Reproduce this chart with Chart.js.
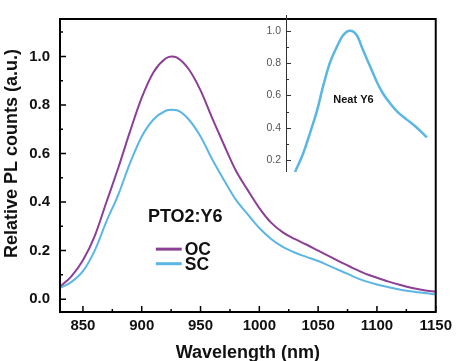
<!DOCTYPE html>
<html lang="en">
<head>
    <meta charset="UTF-8">
    <title>PTO2:Y6 PL</title>
    <script src="https://cdn.jsdelivr.net/npm/chart.js"></script>
    <style>
        html, body { margin: 0; padding: 0; background: #fff; }
        #wrap { position: relative; width: 457px; height: 361px; }
        #wrap canvas { position: absolute; left: 0; top: 0; }
    </style>
</head>
<body>
<div id="wrap">
    <canvas id="main-chart" width="457" height="361"></canvas>
    <canvas id="inset-chart" width="457" height="361"></canvas>
</div>

<script>
    // main panel: PTO2:Y6 blend
    const wavelength = [830, 840, 850, 860, 870, 880, 890, 900, 910, 920, 925, 930, 940, 950, 960, 970, 980, 990,
        1000, 1010, 1020, 1030, 1040, 1050, 1060, 1070, 1080, 1090, 1100, 1110, 1120, 1130, 1140, 1150];
    const ocCounts = [0.05, 0.093, 0.16, 0.26, 0.40, 0.54, 0.69, 0.83, 0.935, 0.99, 1.0, 0.995, 0.947, 0.86, 0.745, 0.635, 0.53, 0.45,
        0.375, 0.315, 0.275, 0.248, 0.225, 0.20, 0.175, 0.15, 0.127, 0.105, 0.088, 0.072, 0.058, 0.046, 0.037, 0.03];
    const scCounts = [0.045, 0.07, 0.115, 0.20, 0.32, 0.43, 0.56, 0.67, 0.74, 0.775, 0.78, 0.778, 0.74, 0.67, 0.575, 0.49, 0.41, 0.35,
        0.293, 0.248, 0.215, 0.192, 0.174, 0.157, 0.136, 0.115, 0.093, 0.074, 0.06, 0.049, 0.039, 0.031, 0.025, 0.02];
    const xTicks = [850, 900, 950, 1000, 1050, 1100, 1150];
    const xMinor = [875, 925, 975, 1025, 1075, 1125];
    const yTicks = [0.0, 0.2, 0.4, 0.6, 0.8, 1.0];
    const yMinor = [0.1, 0.3, 0.5, 0.7, 0.9, 1.1];

    // inset: neat Y6
    const insetWavelength = [818, 834, 848, 862, 874, 887, 901, 913, 927, 941, 953, 967, 981, 993, 1007, 1021, 1040, 1060, 1080];
    const neatCounts = [0.126, 0.24, 0.37, 0.51, 0.66, 0.80, 0.90, 0.97, 1.0, 0.97, 0.88, 0.78, 0.68, 0.61, 0.55, 0.50, 0.45, 0.40, 0.34];
    const insetTicks = [0.2, 0.4, 0.6, 0.8, 1.0];
    const insetMinor = [0.3, 0.5, 0.7, 0.9];

    const PURPLE = '#8b3f95';
    const BLUE = '#5cb6e4';
    const FONT = 'Arial, "Liberation Sans", sans-serif';

    const pts = (xs, ys) => xs.map((x, i) => ({ x: x, y: ys[i] }));

    // frame, inward ticks, y title and legend text for the main panel
    const mainDecor = {
        id: 'mainDecor',
        afterDraw(chart) {
            const ctx = chart.ctx;
            const a = chart.chartArea;
            const xs = chart.scales.x, ys = chart.scales.y;
            ctx.save();
            ctx.strokeStyle = '#000';
            ctx.lineWidth = 2;
            ctx.strokeRect(a.left, a.top, a.right - a.left, a.bottom - a.top);
            ctx.lineWidth = 1.5;
            ctx.beginPath();
            xTicks.forEach(v => { const p = xs.getPixelForValue(v); ctx.moveTo(p, a.bottom); ctx.lineTo(p, a.bottom - 6); });
            xMinor.forEach(v => { const p = xs.getPixelForValue(v); ctx.moveTo(p, a.bottom); ctx.lineTo(p, a.bottom - 3); });
            yTicks.forEach(v => { const p = ys.getPixelForValue(v); ctx.moveTo(a.left, p); ctx.lineTo(a.left + 6, p); });
            yMinor.forEach(v => { const p = ys.getPixelForValue(v); ctx.moveTo(a.left, p); ctx.lineTo(a.left + 3, p); });
            ctx.stroke();

            // y title (sits a little above the axis centre in the original)
            ctx.fillStyle = '#111';
            ctx.font = 'bold 18px ' + FONT;
            ctx.textAlign = 'center';
            ctx.textBaseline = 'middle';
            ctx.save();
            ctx.translate(12, ys.getPixelForValue(0.6));
            ctx.rotate(-Math.PI / 2);
            ctx.fillText('Relative PL counts (a.u.)', 0, 0);
            ctx.restore();

            // legend
            ctx.fillText('PTO2:Y6', xs.getPixelForValue(937), ys.getPixelForValue(0.34));
            ctx.font = 'bold 17.5px ' + FONT;
            const lx0 = xs.getPixelForValue(912), lx1 = xs.getPixelForValue(934);
            [['OC', PURPLE, 0.206], ['SC', BLUE, 0.146]].forEach(([name, col, v]) => {
                const py = ys.getPixelForValue(v);
                ctx.strokeStyle = col;
                ctx.lineWidth = 3;
                ctx.beginPath();
                ctx.moveTo(lx0, py);
                ctx.lineTo(lx1, py);
                ctx.stroke();
                ctx.textAlign = 'left';
                ctx.fillText(name, lx1 + 3, py + 1);
            });
            ctx.restore();
        }
    };

    new Chart(document.getElementById('main-chart').getContext('2d'), {
        type: 'line',
        data: {
            datasets: [
                { label: 'OC', data: pts(wavelength, ocCounts), borderColor: PURPLE, borderWidth: 2, pointRadius: 0, cubicInterpolationMode: 'monotone', fill: false },
                { label: 'SC', data: pts(wavelength, scCounts), borderColor: BLUE, borderWidth: 2, pointRadius: 0, cubicInterpolationMode: 'monotone', fill: false }
            ]
        },
        options: {
            responsive: false,
            animation: false,
            layout: { padding: { left: 0, top: 14, right: 20, bottom: 0 } },
            plugins: { legend: { display: false }, tooltip: { enabled: false } },
            scales: {
                x: {
                    type: 'linear',
                    min: 830.5,
                    max: 1150,
                    grid: { display: false, drawTicks: false },
                    border: { display: false },
                    afterBuildTicks: s => { s.ticks = xTicks.map(v => ({ value: v })); },
                    afterFit: s => { s.height = 49; },
                    ticks: {
                        padding: 5,
                        color: '#111',
                        font: { family: FONT, size: 15, weight: 'bold' },
                        callback: v => String(v)
                    },
                    title: {
                        display: true,
                        text: 'Wavelength (nm)',
                        color: '#111',
                        padding: { top: 0, bottom: -3 },
                        font: { family: FONT, size: 18, weight: 'bold' }
                    }
                },
                y: {
                    min: -0.053,
                    max: 1.154,
                    grid: { display: false, drawTicks: false },
                    border: { display: false },
                    afterBuildTicks: s => { s.ticks = yTicks.map(v => ({ value: v })); },
                    afterFit: s => { s.width = 60; },
                    ticks: {
                        padding: 10,
                        color: '#111',
                        font: { family: FONT, size: 15, weight: 'bold' },
                        callback: v => v.toFixed(1)
                    }
                }
            }
        },
        plugins: [mainDecor]
    });

    // inset axis line with inward ticks and label
    const insetDecor = {
        id: 'insetDecor',
        afterDraw(chart) {
            const ctx = chart.ctx;
            const a = chart.chartArea;
            const xs = chart.scales.x, ys = chart.scales.y;
            ctx.save();
            ctx.strokeStyle = '#333';
            ctx.lineWidth = 1;
            ctx.beginPath();
            ctx.moveTo(a.left + 0.5, a.top);
            ctx.lineTo(a.left + 0.5, a.bottom);
            insetTicks.forEach(v => { const p = Math.round(ys.getPixelForValue(v)) + 0.5; ctx.moveTo(a.left, p); ctx.lineTo(a.left + 5, p); });
            insetMinor.forEach(v => { const p = Math.round(ys.getPixelForValue(v)) + 0.5; ctx.moveTo(a.left, p); ctx.lineTo(a.left + 3, p); });
            ctx.stroke();
            ctx.fillStyle = '#111';
            ctx.font = 'bold 11px ' + FONT;
            ctx.textAlign = 'center';
            ctx.textBaseline = 'middle';
            ctx.fillText('Neat Y6', xs.getPixelForValue(934), ys.getPixelForValue(0.571));
            ctx.restore();
        }
    };

    new Chart(document.getElementById('inset-chart').getContext('2d'), {
        type: 'line',
        data: {
            datasets: [
                { label: 'Neat Y6 SC', data: pts(insetWavelength, neatCounts), borderColor: BLUE, borderWidth: 2.5, pointRadius: 0, cubicInterpolationMode: 'monotone', fill: false },
                { label: 'Neat Y6 OC', data: pts(insetWavelength, neatCounts), borderColor: 'rgba(139,63,149,0.45)', borderWidth: 1, pointRadius: 0, cubicInterpolationMode: 'monotone', fill: false }
            ]
        },
        options: {
            responsive: false,
            animation: false,
            layout: { padding: { left: 256, top: 15, right: 20, bottom: 189 } },
            plugins: { legend: { display: false }, tooltip: { enabled: false } },
            scales: {
                x: { type: 'linear', min: 800, max: 1100, display: false },
                y: {
                    min: 0.126,
                    max: 1.097,
                    grid: { display: false, drawTicks: false },
                    border: { display: false },
                    afterBuildTicks: s => { s.ticks = insetTicks.map(v => ({ value: v })); },
                    afterFit: s => { s.width = 30; },
                    ticks: {
                        padding: 5,
                        color: '#555',
                        font: { family: FONT, size: 10.5 },
                        callback: v => v.toFixed(1)
                    }
                }
            }
        },
        plugins: [insetDecor]
    });
</script>
</body>
</html>
